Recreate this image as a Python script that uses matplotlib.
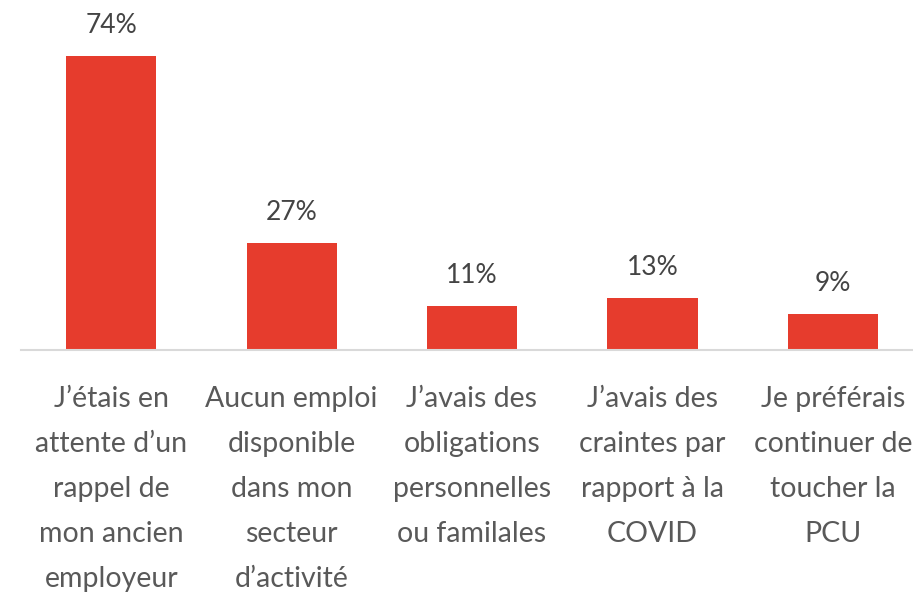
import matplotlib
matplotlib.use("Agg")
import matplotlib.pyplot as plt

# data
categories = [
    "J\u2019étais en\nattente d\u2019un\nrappel de\nmon ancien\nemployeur",
    "Aucun emploi\ndisponible\ndans mon\nsecteur\nd\u2019activité",
    "J\u2019avais des\nobligations\npersonnelles\nou familales",
    "J\u2019avais des\ncraintes par\nrapport à la\nCOVID",
    "Je préférais\ncontinuer de\ntoucher la\nPCU",
]
values = [74, 27, 11, 13, 9]

bar_color = "#E63C2D"
text_color = "#595959"
plt.rcParams['font.family'] = ['Lato', 'DejaVu Sans']

fig = plt.figure(figsize=(9.13, 5.92), dpi=100)
ax = fig.add_axes([21 / 913, 242 / 592, 902 / 913, 318 / 592])

x = list(range(len(values)))
bars = ax.bar(x, values, width=0.5, color=bar_color)
ax.set_xlim(-0.5, len(values) - 0.5)
ax.set_ylim(0, 80)

for xi, v in zip(x, values):
    ax.annotate(f"{v}%", (xi, v), xytext=(0, 13), textcoords="offset points",
                ha="center", va="bottom", fontsize=19, color="#444444")

ax.set_xticks(x)
ax.set_xticklabels(categories, fontsize=20.5, color=text_color,
                   linespacing=1.9)
ax.tick_params(axis="x", length=0, pad=26)
ax.set_yticks([])
for s in ["top", "right", "left"]:
    ax.spines[s].set_visible(False)
ax.spines["bottom"].set_color("#D9D9D9")
ax.spines["bottom"].set_linewidth(1.5)

fig.savefig("out.png", dpi=100)
